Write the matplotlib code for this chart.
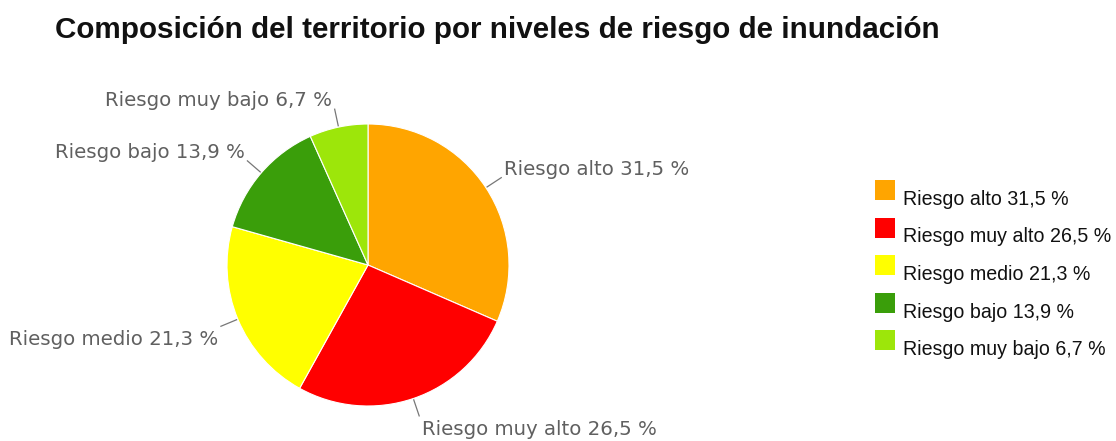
import numpy as np
import matplotlib
matplotlib.use("Agg")
import matplotlib.pyplot as plt
from matplotlib.patches import Rectangle

title = "Composición del territorio por niveles de riesgo de inundación"
categories = ["Riesgo alto", "Riesgo muy alto", "Riesgo medio", "Riesgo bajo", "Riesgo muy bajo"]
values = [31.5, 26.5, 21.3, 13.9, 6.7]
colors = ["#FFA500", "#FF0000", "#FFFF00", "#3A9E0A", "#9DE60A"]

def fmt(v):
    return f"{v:.1f}".replace(".", ",") + " %"

labels = [f"{c} {fmt(v)}" for c, v in zip(categories, values)]

W, H = 1116, 441
fig = plt.figure(figsize=(W / 100, H / 100), dpi=100)
fig.patch.set_facecolor("white")

cx, cy, R = 368, 265, 141
ax = fig.add_axes([(cx - R) / W, (H - cy - R) / H, 2 * R / W, 2 * R / H])
wedges, _ = ax.pie(values, colors=colors, startangle=90, counterclock=False,
                   radius=1.0, wedgeprops=dict(linewidth=0.8, edgecolor="white"))
ax.set_xlim(-1, 1)
ax.set_ylim(-1, 1)
ax.set_aspect("equal")
ax.axis("off")

for w, lab in zip(wedges, labels):
    ang = np.deg2rad((w.theta1 + w.theta2) / 2)
    c, s = np.cos(ang), np.sin(ang)
    x0, y0 = 1.01 * c, 1.01 * s
    x1, y1 = 1.13 * c, 1.13 * s
    ax.plot([x0, x1], [y0, y1], color="#777777", lw=0.9, clip_on=False)
    dx = 3 if c >= 0 else -3
    if s >= 0:
        dy, va = 3, "baseline"
    else:
        dy, va = -4, "top"
    ax.annotate(lab, xy=(x1, y1), xytext=(dx, dy), textcoords="offset pixels",
                ha="left" if c >= 0 else "right", va=va,
                fontsize=14.2, color="#606060", family="DejaVu Sans",
                annotation_clip=False)

fig.text(55 / W, 1 - 38 / H, title, ha="left", va="baseline",
         fontsize=21.3, fontweight="bold", family="Liberation Sans", color="#111111")

# legend
lx, ly0, step, sq = 875, 180, 37.5, 20
for i, (col, lab) in enumerate(zip(colors, labels)):
    top = ly0 + i * step
    fig.patches.append(Rectangle((lx / W, 1 - (top + sq) / H), sq / W, sq / H,
                                 transform=fig.transFigure, facecolor=col,
                                 edgecolor="none"))
    fig.text(903 / W, 1 - (top + 25) / H, lab, ha="left", va="baseline",
             fontsize=14.1, family="Liberation Sans", color="#111111")

fig.savefig("out.png", dpi=100, facecolor="white")
